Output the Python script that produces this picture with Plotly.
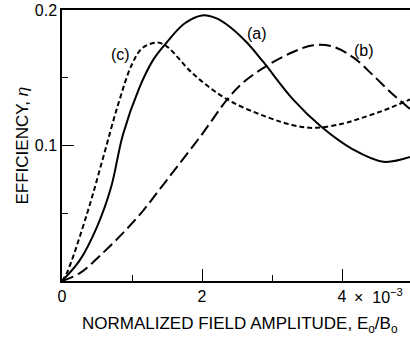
import plotly.graph_objects as go

# Curve (a) solid
xa = [0, 0.25, 0.5, 0.7, 0.87, 1.1, 1.3, 1.47, 1.75, 2.0, 2.2, 2.4, 2.64, 2.87, 3.3, 3.7, 4.16, 4.59, 4.97]
ya = [0, 0.015, 0.040, 0.069, 0.108, 0.142, 0.163, 0.1745, 0.190, 0.196, 0.194, 0.1875, 0.176, 0.162, 0.134, 0.114, 0.097, 0.088, 0.0915]

# Curve (b) long dash
xb = [0, 0.26, 0.59, 0.9, 1.16, 1.4, 1.64, 2.01, 2.36, 2.6, 2.93, 3.3, 3.59, 3.87, 4.16, 4.44, 4.7, 4.97]
yb = [0, 0.006, 0.021, 0.037, 0.052, 0.068, 0.084, 0.109, 0.134, 0.147, 0.159, 0.169, 0.174, 0.173, 0.165, 0.152, 0.139, 0.127]

# Curve (c) short dash
xc = [0, 0.07, 0.36, 0.59, 0.8, 1.0, 1.15, 1.36, 1.5, 1.87, 2.36, 2.93, 3.3, 3.6, 4.0, 4.26, 4.6, 4.97]
yc = [0, 0.006, 0.050, 0.0915, 0.130, 0.160, 0.172, 0.176, 0.173, 0.153, 0.134, 0.121, 0.115, 0.113, 0.116, 0.120, 0.126, 0.134]

curve_labels = ["(a)", "(b)", "(c)"]
label_x = [2.79, 4.31, 0.83]
label_y = [0.183, 0.170, 0.167]

x_tick_vals = [0, 2, 4]
x_tick_text = ["0", "2", "4"]
x_minor_vals = [1, 3]
y_tick_vals = [0.1, 0.2]
y_tick_text = ["0.1", "0.2"]
y_minor_vals = [0.05, 0.15]

x_title = "NORMALIZED FIELD AMPLITUDE, E<sub>o</sub>/B<sub>o</sub>"
y_title = "EFFICIENCY, <i>η</i>"
x_exponent = "×\u00a0\u00a010<sup>−3</sup>"

FONT = "Liberation Sans, Arial, Helvetica, sans-serif"
FS = 16
FT = 17

fig = go.Figure()
fig.add_trace(go.Scatter(x=xa, y=ya, mode="lines", line=dict(color="black", width=2, shape="spline")))
fig.add_trace(go.Scatter(x=xb, y=yb, mode="lines", line=dict(color="black", width=2, shape="spline", dash="12px,5px")))
fig.add_trace(go.Scatter(x=xc, y=yc, mode="lines", line=dict(color="black", width=2, shape="spline", dash="5px,3px")))

for t, lx, ly in zip(curve_labels, label_x, label_y):
    fig.add_annotation(x=lx, y=ly, text=t, showarrow=False, font=dict(size=FS, color="black", family=FONT))

fig.add_annotation(x=4, y=0, xref="x", yref="paper", text=x_exponent, showarrow=False,
                   xanchor="left", yanchor="top", xshift=10, yshift=-3, font=dict(size=FS, color="black", family=FONT))

# axis titles as annotations for precise placement
fig.add_annotation(x=0.5, y=0, xref="paper", yref="paper", text=x_title, showarrow=False,
                   xanchor="center", yanchor="middle", xshift=4, yshift=-44,
                   font=dict(size=FT, color="black", family=FONT))
fig.add_annotation(x=0, y=0.5, xref="paper", yref="paper", text=y_title, showarrow=False, textangle=-90,
                   xanchor="center", yanchor="middle", xshift=-40,
                   font=dict(size=FT, color="black", family=FONT))

fig.update_layout(
    width=410, height=339,
    margin=dict(l=62, r=0, t=10, b=58),
    paper_bgcolor="white", plot_bgcolor="white",
    showlegend=False,
    font=dict(family=FONT, size=FS, color="black"),
    xaxis=dict(range=[0, 4.971], showgrid=False, zeroline=False, showline=True, linecolor="black", linewidth=1.5,
               mirror=True, ticks="inside", ticklen=12, tickwidth=1.3, tickcolor="black", automargin=False,
               tickvals=x_tick_vals, ticktext=x_tick_text, tickfont=dict(size=FS),
               minor=dict(ticks="inside", ticklen=6, tickwidth=1.3, tickcolor="black", tickvals=x_minor_vals)),
    yaxis=dict(range=[0, 0.2], showgrid=False, zeroline=False, showline=True, linecolor="black", linewidth=1.5,
               ticks="inside", ticklen=12, tickwidth=1.3, tickcolor="black", automargin=False,
               tickvals=y_tick_vals, ticktext=y_tick_text, tickfont=dict(size=FS),
               minor=dict(ticks="inside", ticklen=6, tickwidth=1.3, tickcolor="black", tickvals=y_minor_vals)),
)

fig.write_html("out.html", config={"displayModeBar": False},
               post_script="document.body.style.margin='0px';document.body.style.overflow='hidden';")
